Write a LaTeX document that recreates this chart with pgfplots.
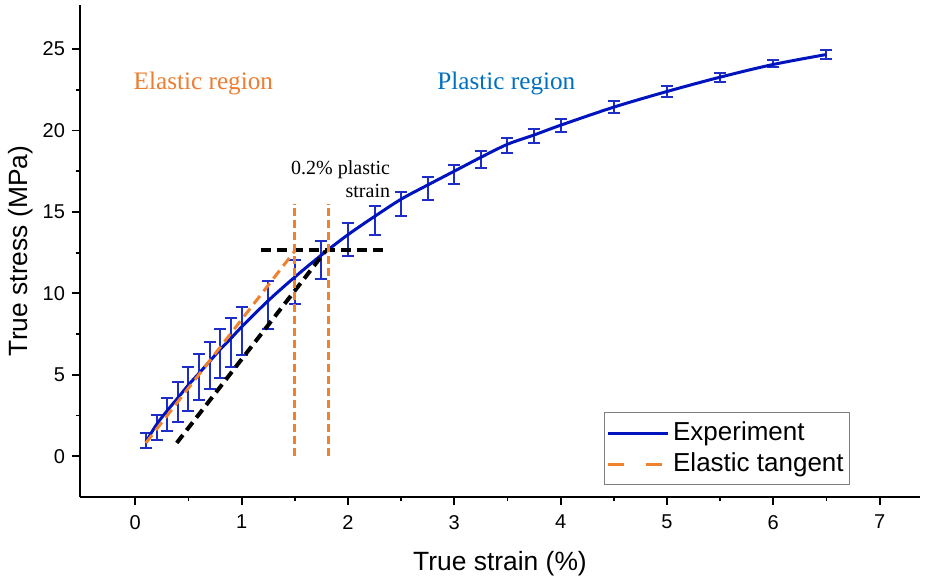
\documentclass[border=0pt]{standalone}
\usepackage{fontspec}
\setmainfont{Liberation Sans}
\newfontfamily\seriffont{Liberation Serif}
\usepackage{pgfplots}
\usepackage{pgfplotstable}
\pgfplotsset{compat=1.18}

\definecolor{curveblue}{RGB}{0,20,190}
\definecolor{barblue}{RGB}{30,45,200}
\definecolor{tanorange}{RGB}{240,130,45}
\definecolor{textorange}{RGB}{237,125,49}
\definecolor{textblue}{RGB}{0,112,192}

% fitted experiment curve
\pgfplotstableread{
x y
0.1 0.88
0.2 1.95
0.3 2.80
0.4 3.58
0.5 4.38
0.6 5.10
0.7 5.83
0.8 6.57
0.9 7.24
1.0 7.94
1.25 9.55
1.5 11.00
1.75 12.35
2.0 13.60
2.25 14.72
2.5 15.78
2.75 16.65
3.0 17.50
3.25 18.35
3.5 19.15
3.75 19.72
4.0 20.32
4.5 21.43
5.0 22.39
5.5 23.27
6.0 24.05
6.5 24.66
}\curvedata

% mean and spread of the measurements
\pgfplotstableread{
x y e
0.1 0.94 0.46
0.2 1.75 0.77
0.3 2.58 1.01
0.4 3.33 1.23
0.5 4.13 1.36
0.6 4.85 1.41
0.7 5.58 1.43
0.8 6.32 1.51
0.9 6.99 1.51
1.0 7.69 1.48
1.25 9.28 1.45
1.5 10.70 1.33
1.75 12.04 1.15
2.0 13.30 1.02
2.25 14.45 0.89
2.5 15.50 0.75
2.75 16.42 0.70
3.0 17.30 0.58
3.25 18.20 0.51
3.5 19.08 0.48
3.75 19.67 0.43
4.0 20.30 0.38
4.5 21.43 0.37
5.0 22.39 0.36
5.5 23.27 0.28
6.0 24.13 0.22
6.5 24.66 0.27
}\bardata

\begin{document}
\begin{tikzpicture}
\begin{axis}[
  scale only axis,
  width=420pt, height=246pt,
  xmin=-0.52, xmax=7.38,
  ymin=-2.5, ymax=27.7,
  axis lines=left,
  axis line style={-, line width=0.9pt},
  xtick={0,...,7}, ytick={0,5,...,25},
  minor x tick num=1, minor y tick num=1,
  tick align=outside,
  major tick length=4pt, minor tick length=2.2pt,
  every tick/.style={line width=0.9pt, black},
  tick label style={font=\fontsize{10}{12}\selectfont},
  xticklabel style={yshift=-1.5pt},
  /pgf/number format/assume math mode=true,
  xlabel={True strain (\%)},
  ylabel={True stress (MPa)},
  label style={font=\fontsize{13.2}{16}\selectfont},
  xlabel style={yshift=-4pt},
  ylabel style={yshift=-2pt},
  legend style={at={(0.917,0.173)}, anchor=north east,
                draw=gray, line width=0.6pt,
                font=\fontsize{13}{16}\selectfont,
                inner xsep=1pt, inner ysep=2.5pt,
                nodes={inner xsep=2pt, inner ysep=2.3pt}},
  legend cell align=left,
  legend image code/.code={\draw[#1] (0pt,0pt) -- (30pt,0pt);},
  clip=false,
]
  % keep the page the same size as the reference
  \path (rel axis cs:0,0) ++(-40pt,-41pt);
  \path (rel axis cs:1,1) ++(2.5pt,2.5pt);

  % measurement error bars
  \addplot[draw=none, mark=none, forget plot,
           error bars/.cd, y dir=both, y explicit,
           error bar style={draw=barblue, line width=1pt, solid},
           error mark options={draw=barblue, rotate=90, mark size=3pt, line width=1pt}]
    table[x=x, y=y, y error=e] {\bardata};

  \addplot[curveblue, line width=1.5pt, smooth, mark=none]
    table[x=x, y=y] {\curvedata};
  \addlegendentry{Experiment}

  \addplot[tanorange, line width=1.5pt, dash pattern=on 5pt off 3pt,
           legend image code/.code={\draw[tanorange, line width=1.5pt,
             dash pattern=on 8pt off 11pt] (0pt,0pt) -- (30pt,0pt);}]
    coordinates {(0.1,0.82) (1.5,12.6)};
  \addlegendentry{Elastic tangent}

  % 0.2% offset construction
  \addplot[black, line width=2pt, dash pattern=on 5pt off 3pt, forget plot]
    coordinates {(0.39,0.82) (1.79,12.6)};
  \addplot[black, line width=2pt, dash pattern=on 5pt off 3pt, forget plot]
    coordinates {(1.18,12.64) (2.37,12.64)};
  \addplot[tanorange, line width=1.5pt, dash pattern=on 4pt off 2pt, forget plot]
    coordinates {(1.5,0) (1.5,15.5)};
  \addplot[tanorange, line width=1.5pt, dash pattern=on 4pt off 2pt, forget plot]
    coordinates {(1.82,0) (1.82,15.5)};

  \node[font=\seriffont\fontsize{12.6}{15}\selectfont, text=textorange]
    at (axis cs:0.64,22.9) {Elastic region};
  \node[font=\seriffont\fontsize{12.6}{15}\selectfont, text=textblue]
    at (axis cs:3.49,22.9) {Plastic region};
  \node[font=\seriffont\fontsize{10}{11.5}\selectfont, align=right, anchor=east, inner sep=0pt]
    at (axis cs:2.40,17.0) {0.2\% plastic\\strain};
\end{axis}
\end{tikzpicture}
\end{document}
